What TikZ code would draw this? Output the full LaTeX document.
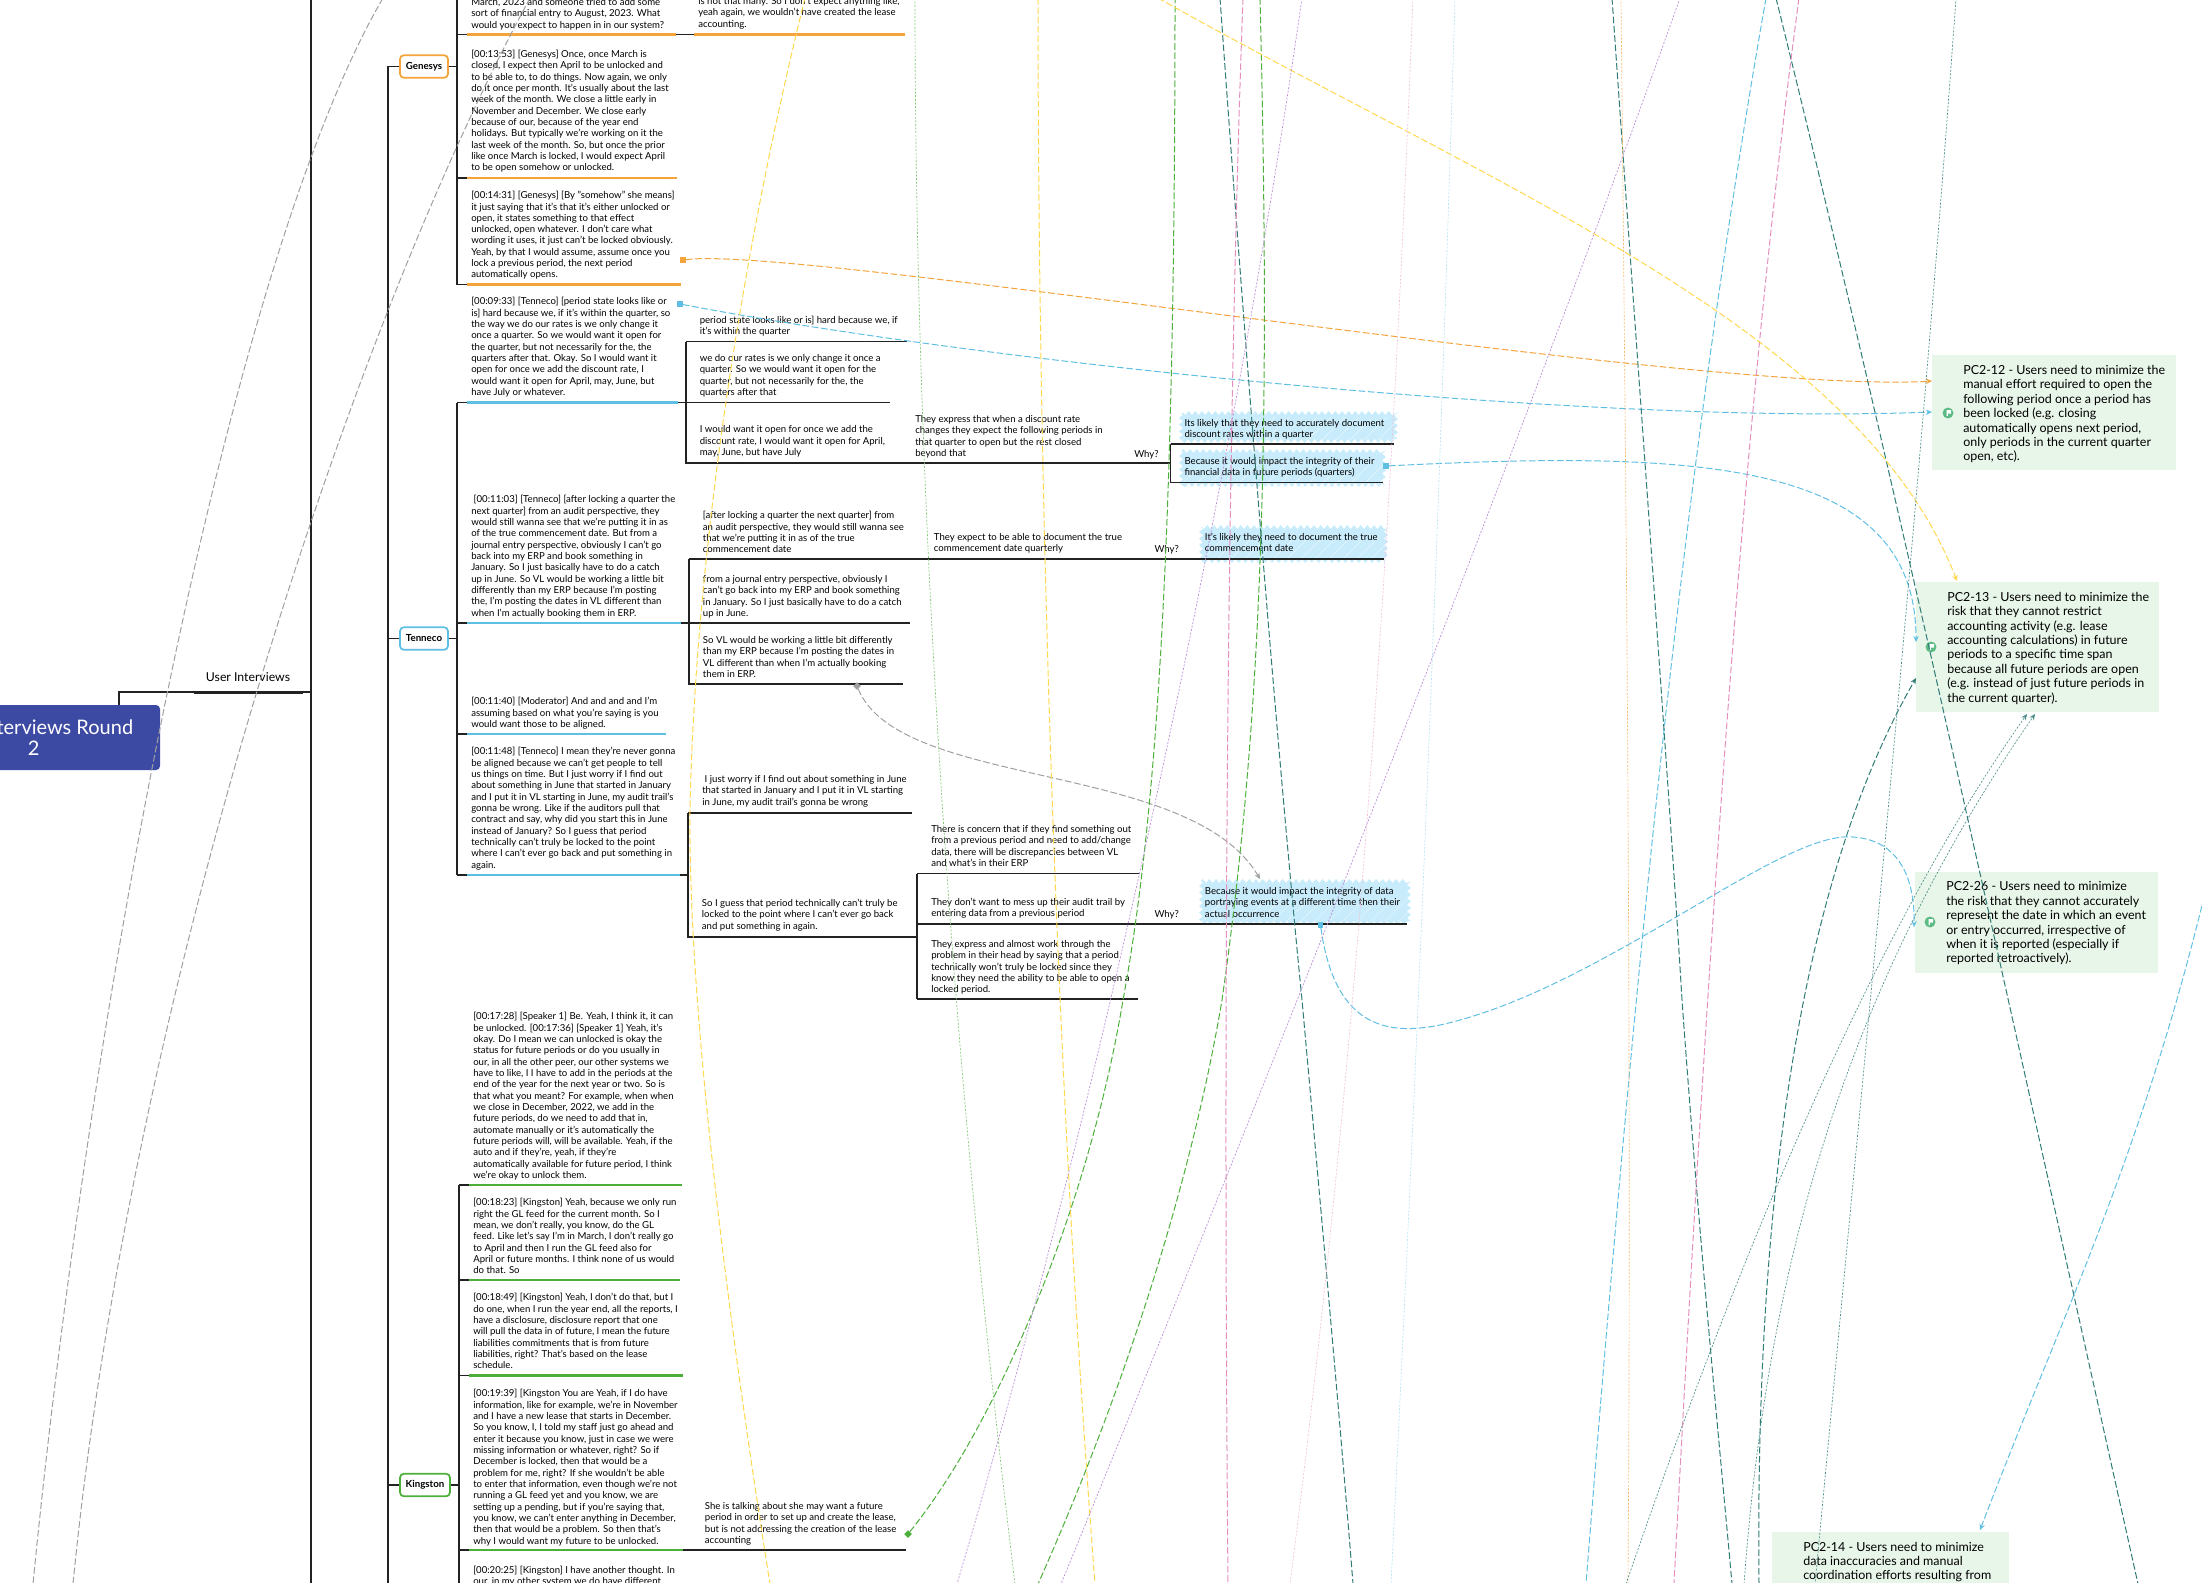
\documentclass[tikz,border=0pt]{standalone}
\usepackage{fontspec}
\setmainfont{Lato}
\usepackage{tikz}
\usetikzlibrary{calc,positioning,arrows.meta,decorations.pathmorphing}

\definecolor{rootblue}{HTML}{3D4AA3}
\definecolor{lineblack}{HTML}{222222}
\definecolor{orangeline}{HTML}{F5A33B}
\definecolor{blueline}{HTML}{5FBFE3}
\definecolor{greenline}{HTML}{4CAF3A}
\definecolor{tealline}{HTML}{2F7B75}
\definecolor{pinkline}{HTML}{E58FBF}
\definecolor{purpleline}{HTML}{B98AD6}
\definecolor{yellowline}{HTML}{FFD84D}
\definecolor{grayline}{HTML}{A0A0A0}
\definecolor{pcgreen}{HTML}{E8F5E9}
\definecolor{scribble}{HTML}{C8ECFB}
\definecolor{flaggreen}{HTML}{5CBB84}

\tikzset{
	quote/.style={align=left,inner sep=0pt,anchor=north west,text=black,yshift=-1pt,
		font=\fontsize{7.2}{8.5}\selectfont,execute at begin node={\strut}},
	pctext/.style={align=left,inner sep=0pt,anchor=north west,text=black,yshift=-1pt,
		font=\fontsize{9.35}{10.8}\selectfont,execute at begin node={\strut}},
	topic/.style={draw,rounded corners=3pt,line width=1.3pt,fill=white,text=black,
		minimum height=17pt,inner sep=0pt,font=\fontsize{7.3}{8.5}\selectfont\bfseries},
	branch/.style={lineblack,line width=1.4pt},
	under/.style={line width=1.6pt},
	pcfill/.style={fill=pcgreen},
	scrib/.style={fill=scribble,decorate,decoration={zigzag,segment length=5pt,amplitude=1.5pt},
		path picture={\foreach \i in {0,14,...,320}
			\draw[white,opacity=.55,line width=.3pt] ($(path picture bounding box.south west)+(\i,0)$) -- ++(26,-26);}},
	link/.style={line width=.75pt,dash pattern=on 5pt off 2pt},
	thinlink/.style={line width=.5pt,dash pattern=on 1.5pt off 1.2pt},
	tip/.style={-{Stealth[length=4.5pt,width=4pt]}},
	startdot/.style={minimum size=4pt,inner sep=0pt,fill=#1},
	flagicon/.pic={
		\fill[flaggreen] (0,0) circle (4.1pt);
		\fill[white] (-1.5,-3) -- (3,-3) -- (3,.5) -- (-.2,.5) -- (-.2,3) -- (-1.5,3) -- cycle;
	}
}

\begin{document}
\begin{tikzpicture}[x=.75pt,y=-.75pt]
	\useasboundingbox (0,0) rectangle (2202,1582);

	% backgrounds
	\fill[pcfill] (1932,355) rectangle (2176,470);
	\fill[pcfill] (1916,582) rectangle (2159,712);
	\fill[pcfill] (1915,872) rectangle (2158,973);
	\fill[pcfill] (1772,1532) rectangle (2009,1590);
	\path[scrib] (1181,413) rectangle (1396,441);
	\path[scrib] (1181,451) rectangle (1384,485);
	\path[scrib] (1201,527) rectangle (1386,561);
	\path[scrib] (1201,881) rectangle (1409,923);

	% root and branches
	\node[fill=rootblue,rounded corners=3pt,minimum width=189.5pt,minimum height=48.75pt,
		align=center,text=white,font=\fontsize{15}{16.3}\selectfont] (root) at (33.7,737.5) {User Interviews Round\\2};
	\node[inner sep=0pt,text=black,font=\fontsize{9.2}{10}\selectfont] (interviews) at (248,677.5) {User Interviews};
	\node[topic,draw=orangeline,minimum width=36pt] (genesys) at (424,66.5) {Genesys};
	\node[topic,draw=blueline,minimum width=36pt] (tenneco) at (424,638.5) {Tenneco};
	\node[topic,draw=greenline,minimum width=37.5pt] (kingston) at (425,1485) {Kingston};

	\coordinate (rootup) at (119,692);
	\coordinate (trunk) at (311,692);
	\coordinate (spine) at (388,66.5);
	\draw[branch] (rootup |- root.north) -- (rootup) -- (trunk);
	\draw[branch,line width=2pt] (194,692.5) -- (303,692.5);
	\draw[branch,line width=2pt] (311,-2) -- (311,1584);
	\draw[branch] (genesys.west) -- (spine) -- (388,1584);
	\draw[branch] (388,638.5) -- (tenneco.west);
	\draw[branch] (388,1485) -- (kingston.west);
	\draw[branch] (genesys.east) -- (457,66.5);
	\draw[branch] (tenneco.east) -- (457,638.5);
	\draw[branch] (kingston.east) -- (459,1485);

	% first level
	\draw[branch] (457,-2) -- (457,284.5);
	\draw[branch] (457,402.5) -- (457,875);
	\draw[branch] (459,1185) -- (459,1584);
	\foreach \ya/\xa in {34.5/457,178/457,284.5/457,402.5/457,623/457,734/457,875/457,1185/459,1280/459,1375.5/459,1550/459}
		\draw[branch] (\xa,\ya) -- (\xa+10,\ya);
	\foreach \ya/\xb in {34.5/676,178/677,284.5/681}
		\draw[under,orangeline] (467,\ya) -- (\xb,\ya);
	\foreach \ya/\xb in {402.5/678,623/681,734/666,875/680}
		\draw[under,blueline] (467,\ya) -- (\xb,\ya);
	\foreach \ya/\xb in {1185/682,1280/680,1375.5/683,1550/683}
		\draw[under,greenline] (469,\ya) -- (\xb,\ya);

	% second level
	\draw[branch] (676,34.5) -- (694,34.5);
	\draw[under,orangeline] (694,34.5) -- (905,34.5);
	\draw[branch] (678,402.5) -- (890,402.5);
	\draw[branch] (686,341.5) -- (907,341.5);
	\draw[branch] (686,341.5) -- (686,463) -- (1170.5,463);
	\draw[branch] (1170.5,444) -- (1170.5,482.5);
	\draw[branch] (1170.5,444) -- (1394,444);
	\draw[branch] (1170.5,482.5) -- (1383,482.5);
	\draw[branch] (689,559.3) -- (689,684) -- (903,684);
	\draw[branch] (689,559.3) -- (1384,559.3);
	\draw[branch] (681,623) -- (910,623);
	\draw[branch] (680,875) -- (688,875);
	\draw[branch] (688,813) -- (912,813);
	\draw[branch] (688,813) -- (688,936.7) -- (917,936.7);
	\draw[branch] (917,873.5) -- (917,999);
	\draw[branch] (917,873.5) -- (1140,873.5);
	\draw[branch] (917,924) -- (1407,924);
	\draw[branch] (917,999) -- (1138,999);
	\draw[branch] (683,1550) -- (906,1550);

	% interview quotes
	\node[quote] (genesysa) at (471,-3.3) {March, 2023 and someone tried to add some\\sort of financial entry to August, 2023. What\\would you expect to happen in in our system?};
	\node[quote] (genesysb) at (471,48.7) {[00:13:53] [Genesys] Once, once March is\\closed, I expect then April to be unlocked and\\to be able to, to do things. Now again, we only\\do it once per month. It's usually about the last\\week of the month. We close a little early in\\November and December. We close early\\because of our, because of the year end\\holidays. But typically we're working on it the\\last week of the month. So, but once the prior\\like once March is locked, I would expect April\\to be open somehow or unlocked.};
	\node[quote] (genesysc) at (471,189.7) {[00:14:31] [Genesys] [By "somehow" she means]\\it just saying that it's that it's either unlocked or\\open, it states something to that effect\\unlocked, open whatever. I don't care what\\wording it uses, it just can't be locked obviously.\\Yeah, by that I would assume, assume once you\\lock a previous period, the next period\\automatically opens.};
	\node[quote] (tennecoa) at (471,295.7) {[00:09:33] [Tenneco] [period state looks like or\\is] hard because we, if it's within the quarter, so\\the way we do our rates is we only change it\\once a quarter. So we would want it open for\\the quarter, but not necessarily for the, the\\quarters after that. Okay. So I would want it\\open for once we add the discount rate, I\\would want it open for April, may, June, but\\have July or whatever.};
	\node[quote] (tennecob) at (471,493.7) {\ [00:11:03] [Tenneco] [after locking a quarter the\\next quarter] from an audit perspective, they\\would still wanna see that we're putting it in as\\of the true commencement date. But from a\\journal entry perspective, obviously I can't go\\back into my ERP and book something in\\January. So I just basically have to do a catch\\up in June. So VL would be working a little bit\\differently than my ERP because I'm posting\\the, I'm posting the dates in VL different than\\when I'm actually booking them in ERP.};
	\node[quote] (tennecoc) at (471,695.7) {[00:11:40] [Moderator] And and and and I'm\\assuming based on what you're saying is you\\would want those to be aligned.};
	\node[quote] (tennecod) at (471,745.7) {[00:11:48] [Tenneco] I mean they're never gonna\\be aligned because we can't get people to tell\\us things on time. But I just worry if I find out\\about something in June that started in January\\and I put it in VL starting in June, my audit trail's\\gonna be wrong. Like if the auditors pull that\\contract and say, why did you start this in June\\instead of January? So I guess that period\\technically can't truly be locked to the point\\where I can't ever go back and put something in\\again.};
	\node[quote] (kingstona) at (473,1010.7) {[00:17:28] [Speaker 1] Be. Yeah, I think it, it can\\be unlocked. [00:17:36] [Speaker 1] Yeah, it's\\okay. Do I mean we can unlocked is okay the\\status for future periods or do you usually in\\our, in all the other peer, our other systems we\\have to like, I I have to add in the periods at the\\end of the year for the next year or two. So is\\that what you meant? For example, when when\\we close in December, 2022, we add in the\\future periods, do we need to add that in,\\automate manually or it's automatically the\\future periods will, will be available. Yeah, if the\\auto and if they're, yeah, if they're\\automatically available for future period, I think\\we're okay to unlock them.};
	\node[quote] (kingstonb) at (473,1196.7) {[00:18:23] [Kingston] Yeah, because we only run\\right the GL feed for the current month. So I\\mean, we don't really, you know, do the GL\\feed. Like let's say I'm in March, I don't really go\\to April and then I run the GL feed also for\\April or future months. I think none of us would\\do that. So};
	\node[quote] (kingstonc) at (473,1291.7) {[00:18:49] [Kingston] Yeah, I don't do that, but I\\do one, when I run the year end, all the reports, I\\have a disclosure, disclosure report that one\\will pull the data in of future, I mean the future\\liabilities commitments that is from future\\liabilities, right? That's based on the lease\\schedule.};
	\node[quote] (kingstond) at (473,1387.7) {[00:19:39] [Kingston You are Yeah, if I do have\\information, like for example, we're in November\\and I have a new lease that starts in December.\\So you know, I, I told my staff just go ahead and\\enter it because you know, just in case we were\\missing information or whatever, right? So if\\December is locked, then that would be a\\problem for me, right? If she wouldn't be able\\to enter that information, even though we're not\\running a GL feed yet and you know, we are\\setting up a pending, but if you're saying that,\\you know, we can't enter anything in December,\\then that would be a problem. So then that's\\why I would want my future to be unlocked.};
	\node[quote] (kingstone) at (473,1564.3) {[00:20:25] [Kingston] I have another thought. In\\our, in my other system we do have different};

	% pulled out parts
	\node[quote] (parta) at (698,-4.3) {is not that many. So I don't expect anything like,\\yeah again, we wouldn't have created the lease\\accounting.};
	\node[quote] (partb) at (699.5,314.3) {period state looks like or is] hard because we, if\\it's within the quarter};
	\node[quote] (partc) at (699.5,352.7) {we do our rates is we only change it once a\\quarter. So we would want it open for the\\quarter, but not necessarily for the, the\\quarters after that};
	\node[quote] (partd) at (699.5,424.3) {I would want it open for once we add the\\discount rate, I would want it open for April,\\may, June, but have July};
	\node[quote] (parte) at (702.7,509.7) {[after locking a quarter the next quarter] from\\an audit perspective, they would still wanna see\\that we're putting it in as of the true\\commencement date};
	\node[quote] (partf) at (702.7,573.7) {from a journal entry perspective, obviously I\\can't go back into my ERP and book something\\in January. So I just basically have to do a catch\\up in June.};
	\node[quote] (partg) at (702.7,634.7) {So VL would be working a little bit differently\\than my ERP because I'm posting the dates in\\VL different than when I'm actually booking\\them in ERP.};
	\node[quote] (parth) at (702,773.7) {\ I just worry if I find out about something in June\\that started in January and I put it in VL starting\\in June, my audit trail's gonna be wrong};
	\node[quote] (parti) at (701.7,897.7) {So I guess that period technically can't truly be\\locked to the point where I can't ever go back\\and put something in again.};
	\node[quote] (partj) at (704.7,1500.7) {She is talking about she may want a future\\period in order to set up and create the lease,\\but is not addressing the creation of the lease\\accounting};

	% what they express and why
	\node[quote] (notea) at (915,413.7) {They express that when a discount rate\\changes they expect the following periods in\\that quarter to open but the rest closed\\beyond that};
	\node[quote] (whya) at (1134,447.7) {Why?};
	\node[quote] (reasona) at (1184.3,417.7) {Its likely that they need to accurately document\\discount rates within a quarter};
	\node[quote] (reasonb) at (1184.3,455.7) {Because it would impact the integrity of their\\financial data in future periods (quarters)};
	\node[quote] (noteb) at (933.7,531.7) {They expect to be able to document the true\\commencement date quarterly};
	\node[quote] (whyb) at (1154.3,542.7) {Why?};
	\node[quote] (reasonc) at (1204.7,531.7) {It's likely they need to document the true\\commencement date};
	\node[quote] (notec) at (931,823.7) {There is concern that if they find something out\\from a previous period and need to add/change\\data, there will be discrepancies between VL\\and what's in their ERP};
	\node[quote] (noted) at (931,896.7) {They don't want to mess up their audit trail by\\entering data from a previous period};
	\node[quote] (whyc) at (1154.3,907.7) {Why?};
	\node[quote] (reasond) at (1204.7,885.7) {Because it would impact the integrity of data\\portraying events at a different time then their\\actual occurrence};
	\node[quote] (notee) at (931,938.7) {They express and almost work through the\\problem in their head by saying that a period\\technically won't truly be locked since they\\know they need the ability to be able to open a\\locked period.};

	% pain points
	\node[pctext] (pca) at (1963,363.8) {PC2-12 - Users need to minimize the\\manual effort required to open the\\following period once a period has\\been locked (e.g. closing\\automatically opens next period,\\only periods in the current quarter\\open, etc).};
	\node[pctext] (pcb) at (1947,590.5) {PC2-13 - Users need to minimize the\\risk that they cannot restrict\\accounting activity (e.g. lease\\accounting calculations) in future\\periods to a specific time span\\because all future periods are open\\(e.g. instead of just future periods in\\the current quarter).};
	\node[pctext] (pcc) at (1946,880.2) {PC2-26 - Users need to minimize\\the risk that they cannot accurately\\represent the date in which an event\\or entry occurred, irrespective of\\when it is reported (especially if\\reported retroactively).};
	\node[pctext] (pcd) at (1803,1540.3) {PC2-14 - Users need to minimize\\data inaccuracies and manual\\coordination efforts resulting from};
	\pic at (1948,413) {flagicon};
	\pic at (1931,647) {flagicon};
	\pic at (1930,922) {flagicon};

	% start points and free ends of the links
	\node[startdot=orangeline] (orangedot) at (683,260) {};
	\node[startdot=blueline] (bluedota) at (680,304) {};
	\node[startdot=blueline] (bluedotb) at (1386,466) {};
	\node[startdot=blueline] (bluedotc) at (1320.5,925) {};
	\node[startdot=grayline,rotate=45] (graydot) at (857,686) {};
	\node[startdot=greenline,rotate=45] (greendot) at (908,1534) {};
	\coordinate (pcaorange) at (1932,381);
	\coordinate (pcablue) at (1932,412);
	\coordinate (pcbblue) at (1916,642);
	\coordinate (pcbyellow) at (1957,581);
	\coordinate (pcbteal) at (1916,678);
	\coordinate (pcbdota) at (2027,714);
	\coordinate (pcbdotb) at (2035,714);
	\coordinate (pccblue) at (1914,927);
	\coordinate (pcdblue) at (1980,1530);
	\coordinate (reasontop) at (1260,879);

	% links
	\draw[link,orangeline,tip] (orangedot) .. controls (800,245) and (1700,395) .. (pcaorange);
	\draw[link,blueline,tip] (bluedota) .. controls (1000,365) and (1600,425) .. (pcablue);
	\draw[link,blueline,tip] (bluedotb) .. controls (1700,450) and (1916,460) .. (pcbblue);
	\draw[link,blueline,tip] (bluedotc) .. controls (1335,1030) and (1390,1035) .. (1440,1025)
		.. controls (1600,990) and (1780,830) .. (1853,837) .. controls (1900,840) and (1915,880) .. (pccblue);
	\draw[link,blueline,tip] (2204,897) .. controls (2140,1160) and (2060,1320) .. (pcdblue);
	\draw[link,blueline] (1766,-2) .. controls (1690,430) and (1640,900) .. (1586,1584);
	\draw[link,grayline,tip] (graydot) .. controls (900,790) and (1190,760) .. (reasontop);
	\draw[link,grayline] (383,-2) .. controls (230,260) and (90,1000) .. (33,1584);
	\draw[link,grayline] (530,-2) .. controls (350,330) and (130,1000) .. (73,1584);
	\draw[link,greenline] (greendot) .. controls (1000,1420) and (1090,1200) .. (1123,1000) .. controls (1160,800) and (1175,500) .. (1175,-2);
	\draw[link,greenline] (1260,-2) .. controls (1270,400) and (1265,700) .. (1222,1000) .. controls (1190,1190) and (1120,1400) .. (1038,1584);
	\draw[link,tealline] (1220,-2) .. controls (1245,350) and (1280,780) .. (1302,1000) .. controls (1320,1200) and (1340,1420) .. (1353,1584);
	\draw[link,tealline] (1612,-2) .. controls (1640,400) and (1670,800) .. (1682,1000) .. controls (1700,1250) and (1720,1450) .. (1732,1584);
	\draw[link,tealline] (1776,-2) .. controls (1900,500) and (2030,1100) .. (2138,1584);
	\draw[link,tealline,tip] (1759,1584) .. controls (1755,1200) and (1800,880) .. (pcbteal);
	\draw[link,pinkline] (1243,-2) .. controls (1230,350) and (1222,900) .. (1228,1584);
	\draw[link,pinkline] (1799,-2) .. controls (1745,400) and (1710,900) .. (1674,1584);
	\draw[link,yellowline] (805,-2) .. controls (740,260) and (695,560) .. (690,810) .. controls (688,1000) and (725,1300) .. (770,1584);
	\draw[link,yellowline] (1038,-2) .. controls (1038,400) and (1050,1000) .. (1095,1584);
	\draw[link,yellowline,tip] (1158,-2) .. controls (1500,190) and (1860,330) .. (pcbyellow);
	\draw[thinlink,purpleline] (1302,-2) .. controls (1230,500) and (1100,1100) .. (957,1584);
	\draw[thinlink,purpleline] (1680,-2) .. controls (1530,420) and (1300,1000) .. (1061,1584);
	\draw[thinlink,pinkline!55] (1413,-2) .. controls (1395,450) and (1365,1000) .. (1290,1584);
	\draw[thinlink,blueline!45] (1455,-2) .. controls (1440,500) and (1420,1000) .. (1391,1584);
	\draw[thinlink,orangeline!75] (1621,-2) .. controls (1625,400) and (1632,1000) .. (1628,1584);
	\draw[thinlink,greenline!70] (915,-2) .. controls (915,500) and (950,1050) .. (1015,1584);
	\draw[thinlink,tealline!85] (1956,-2) .. controls (1920,500) and (1870,1000) .. (1815,1584);
	\draw[thinlink,tealline!85,tip] (1626,1584) .. controls (1720,1310) and (1860,950) .. (pcbdota);
	\draw[thinlink,tealline!85,tip] (1744,1584) .. controls (1765,1300) and (1830,1010) .. (pcbdotb);
\end{tikzpicture}
\end{document}
